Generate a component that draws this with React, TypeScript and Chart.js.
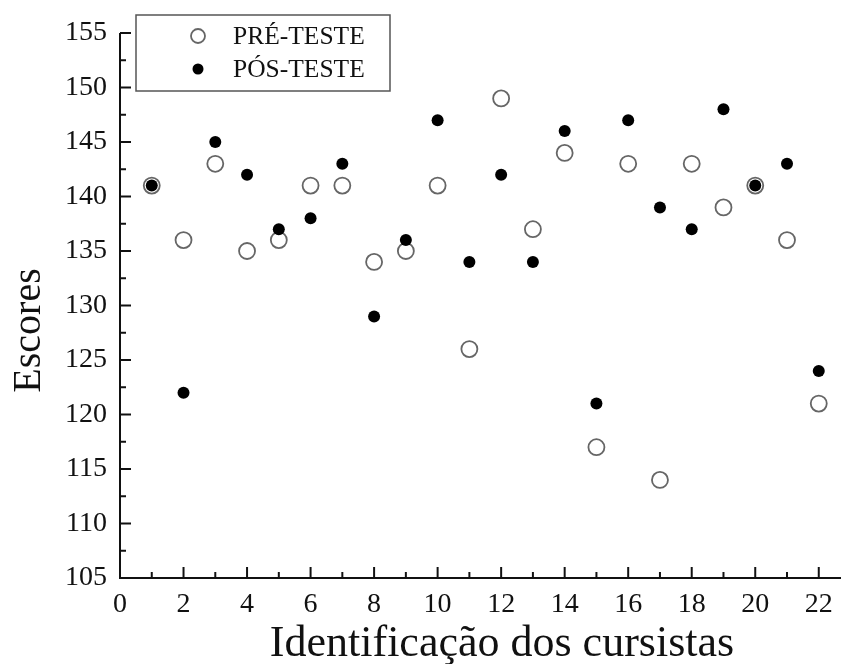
import React, { useEffect, useRef } from "react";
import { Chart, registerables } from "chart.js";

Chart.register(...registerables);

const cursistas = [1, 2, 3, 4, 5, 6, 7, 8, 9, 10, 11, 12, 13, 14, 15, 16, 17, 18, 19, 20, 21, 22];
const preTeste = [141, 136, 143, 135, 136, 141, 141, 134, 135, 141, 126, 149, 137, 144, 117, 143, 114, 143, 139, 141, 136, 121];
const posTeste = [141, 122, 145, 142, 137, 138, 143, 129, 136, 147, 134, 142, 134, 146, 121, 147, 139, 137, 148, 141, 143, 124];
const legendLabels = ["PRÉ-TESTE", "PÓS-TESTE"];
const xTitle = "Identificação dos cursistas";
const yTitle = "Escores";
const yMin = 105;
const yMax = 155;
const xMin = 0;
const xMax = 22.7;

const FONT = "'Liberation Serif', 'Times New Roman', serif";

const decorPlugin = {
  id: "decor",
  afterDraw(chart: any) {
    const { ctx, chartArea, scales } = chart;
    const xs = scales.x;
    const ys = scales.y;
    const { left, right, top, bottom } = chartArea;
    ctx.save();
    ctx.strokeStyle = "#111";
    ctx.lineWidth = 2;
    ctx.beginPath();
    ctx.moveTo(left, top);
    ctx.lineTo(left, bottom);
    ctx.lineTo(right, bottom);
    ctx.stroke();

    // y ticks (inward)
    ctx.lineWidth = 2;
    for (let v = yMin; v <= yMax + 0.001; v += 2.5) {
      const major = Math.abs(v % 5) < 0.001;
      const len = major ? 11 : 6;
      const py = ys.getPixelForValue(v);
      ctx.beginPath();
      ctx.moveTo(left, py);
      ctx.lineTo(left + len, py);
      ctx.stroke();
    }
    // x ticks (inward)
    for (let v = 1; v <= 22; v += 1) {
      const major = v % 2 === 0;
      const len = major ? 11 : 6;
      const px = xs.getPixelForValue(v);
      ctx.beginPath();
      ctx.moveTo(px, bottom);
      ctx.lineTo(px, bottom - len);
      ctx.stroke();
    }

    // legend box
    const lx = left + 16;
    const ly = top - 18;
    const lw = 254;
    const lh = 76;
    ctx.fillStyle = "#fff";
    ctx.fillRect(lx, ly, lw, lh);
    ctx.strokeStyle = "#555";
    ctx.lineWidth = 1.5;
    ctx.strokeRect(lx, ly, lw, lh);

    const mx = lx + 62;
    const r1y = ly + 21;
    const r2y = ly + 54;
    ctx.beginPath();
    ctx.arc(mx, r1y, 7, 0, Math.PI * 2);
    ctx.strokeStyle = "#666";
    ctx.lineWidth = 1.8;
    ctx.stroke();
    ctx.beginPath();
    ctx.arc(mx, r2y, 5.5, 0, Math.PI * 2);
    ctx.fillStyle = "#000";
    ctx.fill();

    ctx.fillStyle = "#111";
    ctx.font = `25.5px ${FONT}`;
    ctx.textAlign = "left";
    ctx.textBaseline = "middle";
    ctx.fillText(legendLabels[0], lx + 97, r1y + 1);
    ctx.fillText(legendLabels[1], lx + 97, r2y + 1);

    // axis titles
    ctx.font = `44px ${FONT}`;
    ctx.textAlign = "center";
    ctx.textBaseline = "alphabetic";
    ctx.fillText(xTitle, left + 382, bottom + 78);

    ctx.font = `40px ${FONT}`;
    ctx.save();
    ctx.translate(left - 80, (top + bottom) / 2 + 25);
    ctx.rotate(-Math.PI / 2);
    ctx.textBaseline = "alphabetic";
    ctx.fillText(yTitle, 0, 0);
    ctx.restore();

    ctx.restore();
  },
};

export default function App() {
  const canvasRef = useRef<HTMLCanvasElement | null>(null);

  useEffect(() => {
    if (!canvasRef.current) return;
    const chart = new Chart(canvasRef.current, {
      type: "scatter",
      data: {
        datasets: [
          {
            label: legendLabels[0],
            data: cursistas.map((c, i) => ({ x: c, y: preTeste[i] })),
            pointStyle: "circle",
            pointRadius: 8,
            pointBorderWidth: 1.8,
            pointBorderColor: "#666",
            pointBackgroundColor: "rgba(255,255,255,0)",
            order: 2,
          },
          {
            label: legendLabels[1],
            data: cursistas.map((c, i) => ({ x: c, y: posTeste[i] })),
            pointStyle: "circle",
            pointRadius: 6,
            pointBorderWidth: 0,
            pointBorderColor: "#000",
            pointBackgroundColor: "#000",
            order: 1,
          },
        ],
      },
      options: {
        animation: false,
        responsive: true,
        maintainAspectRatio: false,
        layout: { autoPadding: false, padding: { top: 33, right: 0, left: 0, bottom: 0 } },
        plugins: {
          legend: { display: false },
          tooltip: { enabled: false },
        },
        scales: {
          x: {
            type: "linear",
            min: xMin,
            max: xMax,
            afterFit(scale: any) {
              scale.height = 86;
              scale.paddingRight = 0;
              scale.paddingLeft = 0;
            },
            border: { display: false },
            grid: { display: false, drawTicks: false },
            ticks: {
              stepSize: 2,
              includeBounds: false,
              padding: 10,
              color: "#111",
              font: { family: FONT, size: 28 },
              maxRotation: 0,
              autoSkip: false,
              callback: (v: any) => (Number.isInteger(v) && v % 2 === 0 ? String(v) : ""),
            },
          },
          y: {
            type: "linear",
            min: yMin,
            max: yMax,
            afterFit(scale: any) {
              scale.width = 120;
              scale.paddingTop = 0;
              scale.paddingBottom = 0;
            },
            border: { display: false },
            grid: { display: false, drawTicks: false },
            ticks: {
              stepSize: 5,
              padding: 13,
              color: "#111",
              font: { family: FONT, size: 28 },
            },
          },
        },
      },
      plugins: [decorPlugin],
    });
    return () => chart.destroy();
  }, []);

  return (
    <div style={{ position: "absolute", left: 0, top: 0, width: 841, height: 664, background: "#fff" }}>
      <canvas ref={canvasRef} />
    </div>
  );
}
